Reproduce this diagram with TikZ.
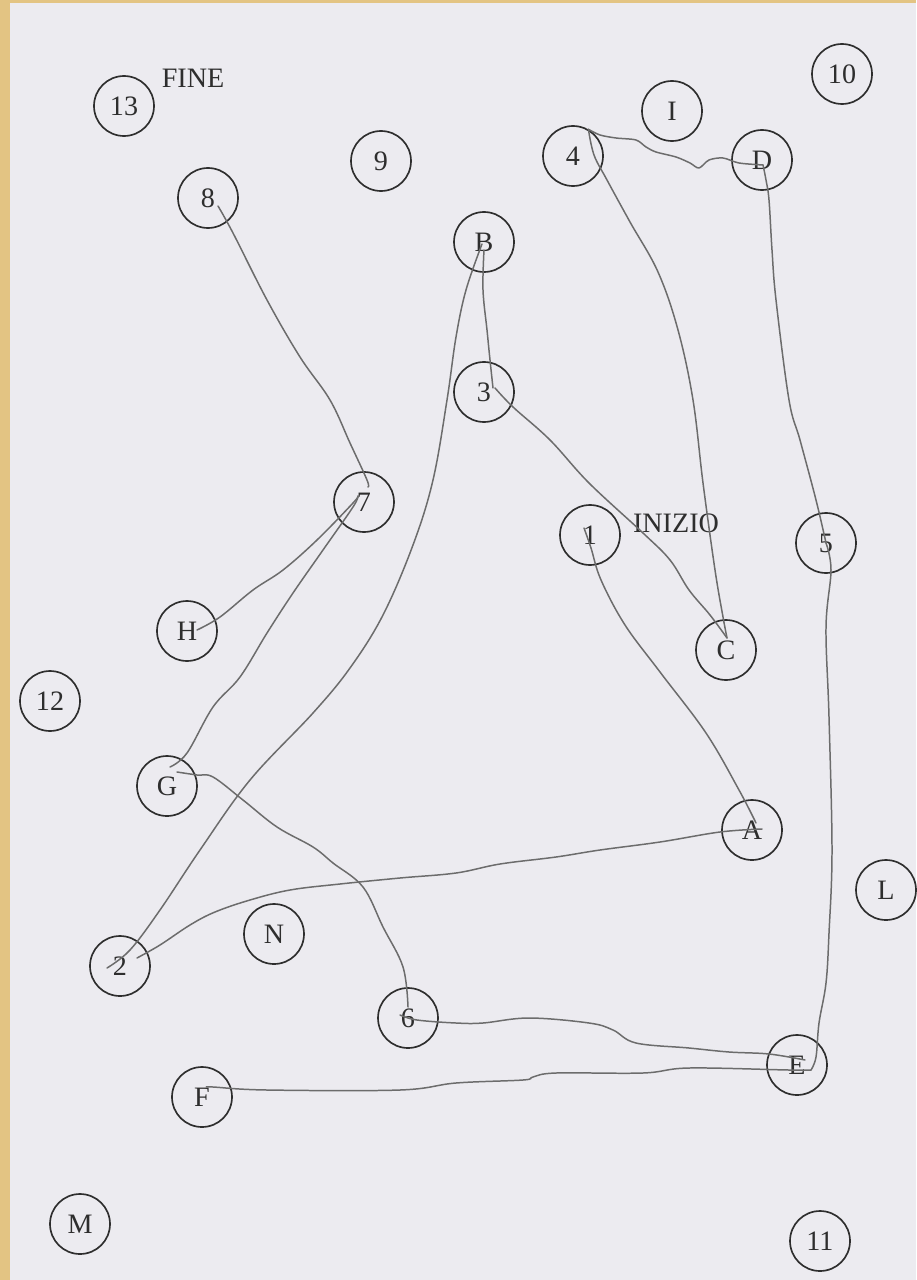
\documentclass[tikz,border=0pt]{standalone}
\usepackage{fontspec}
\setmainfont{Liberation Serif}
\usepackage{xcolor}

\definecolor{paper}{HTML}{ECEBF0}
\definecolor{tanedge}{HTML}{E3C483}
\definecolor{ink}{HTML}{2E2E2E}
\definecolor{pencil}{HTML}{6C6C6C}

\begin{document}
\begin{tikzpicture}[x=0.02cm, y=-0.02cm,
    spot/.style={circle, draw=ink, line width=0.95pt, minimum size=1.2cm, inner sep=0pt, font=\fontsize{16}{18}\selectfont, text=ink},
    lbl/.style={font=\fontsize{16}{18}\selectfont, text=ink, inner sep=0pt},
    trail/.style={draw=pencil, line width=0.85pt, line cap=round, line join=round}
]
\useasboundingbox (0,0) rectangle (916,1280);

% Sheet
\fill[tanedge] (0,0) rectangle (916,1280);
\fill[paper] (10,3) rectangle (916,1280);

% Numbers
\node[spot] (c1) at (590,535) {1};
\node[spot] (c2) at (120,966) {2};
\node[spot] (c3) at (484,392) {3};
\node[spot] (c4) at (573,156) {4};
\node[spot] (c5) at (826,543) {5};
\node[spot] (c6) at (408,1018) {6};
\node[spot] (c7) at (364,502) {7};
\node[spot] (c8) at (208,198) {8};
\node[spot] (c9) at (381,161) {9};
\node[spot] (c10) at (842,74) {10};
\node[spot] (c11) at (820,1241) {11};
\node[spot] (c12) at (50,701) {12};
\node[spot] (c13) at (124,106) {13};

% Letters
\node[spot] (cA) at (752,830) {A};
\node[spot] (cB) at (484,242) {B};
\node[spot] (cC) at (726,650) {C};
\node[spot] (cD) at (762,160) {D};
\node[spot] (cE) at (797,1065) {E};
\node[spot] (cF) at (202,1097) {F};
\node[spot] (cG) at (167,786) {G};
\node[spot] (cH) at (187,631) {H};
\node[spot] (cI) at (672,111) {I};
\node[spot] (cL) at (886,890) {L};
\node[spot] (cM) at (80,1224) {M};
\node[spot] (cN) at (274,934) {N};

% Start / end
\node[lbl] (fine) at (193,78) {FINE};
\node[lbl] (inizio) at (676,523) {INIZIO};

% Pen points inside the circles
\coordinate (p1) at ([shift={(-6,-7)}]c1.center);
\coordinate (pA) at ([shift={(4,-7)}]cA.center);
\coordinate (qA) at ([shift={(10,-1)}]cA.center);
\coordinate (p2) at ([shift={(17,-8)}]c2.center);
\coordinate (q2) at ([shift={(-13,2)}]c2.center);
\coordinate (pB) at ([shift={(-2,2)}]cB.center);
\coordinate (qB) at ([shift={(0,8)}]cB.center);
\coordinate (p3) at ([shift={(9,-4)}]c3.center);
\coordinate (q3) at ([shift={(11,-4)}]c3.center);
\coordinate (pC) at ([shift={(1,-12)}]cC.center);
\coordinate (p4) at (c4.60);
\coordinate (pD) at ([shift={(1,5)}]cD.center);
\coordinate (pE) at ([shift={(14,5)}]cE.center);
\coordinate (qE) at ([shift={(8,-5)}]cE.center);
\coordinate (p6) at ([shift={(-8,-3)}]c6.center);
\coordinate (q6) at ([shift={(0,-11)}]c6.center);
\coordinate (pF) at ([shift={(5,-10)}]cF.center);
\coordinate (pG) at ([shift={(10,-14)}]cG.center);
\coordinate (qG) at ([shift={(3,-19)}]cG.center);
\coordinate (pH) at ([shift={(10,-1)}]cH.center);
\coordinate (p7) at ([shift={(-6,-6)}]c7.center);
\coordinate (q7) at ([shift={(4,-15)}]c7.center);
\coordinate (p8) at ([shift={(10,8)}]c8.center);

% Trail
\draw[trail] plot[smooth, tension=0.6] coordinates {(p1) (591,548) (601,580) (625,625) (660,672) (706,733) (739,790) (pA)};
\draw[trail] plot[smooth, tension=0.6] coordinates {(qA) (720,832) (660,842) (600,850) (556,857) (500,864) (456,873) (400,878) (340,884) (290,890) (250,900) (215,912) (190,925) (160,945) (p2)};
\draw[trail] plot[smooth, tension=0.6] coordinates {(q2) (130,950) (160,910) (200,850) (250,780) (313,713) (350,668) (383,615) (413,545) (433,480) (447,400) (456,337) (466,290) (pB)};
\draw[trail] plot[smooth, tension=0.6] coordinates {(qB) (483,290) (487,330) (490,360) (p3)};
\draw[trail] plot[smooth, tension=0.6] coordinates {(q3) (513,407) (550,440) (589,483) (643,533) (670,560) (689,590) (710,615) (pC)};
\draw[trail] plot[smooth, tension=0.6] coordinates {(pC) (723,617) (715,570) (703,483) (693,400) (678,330) (658,272) (630,222) (607,180) (594,155) (p4)};
\draw[trail] plot[smooth, tension=0.5] coordinates {(p4) (600,135) (616,138) (636,140) (646,147) (656,152) (676,157) (690,163) (699,168) (709,160) (723,158) (739,163) (pD)};
\draw[trail] plot[smooth, tension=0.6] coordinates {(pD) (766,180) (769,200) (772,250) (776,300) (789,400) (800,440) (816,500) (c5.center)};
\draw[trail] plot[smooth, tension=0.6] coordinates {(c5.center) (831,570) (826,627) (829,717) (832,850) (829,933) (826,983) (819,1023) (816,1057) (pE)};
\draw[trail] plot[smooth, tension=0.6] coordinates {(qE) (769,1054) (729,1052) (689,1048) (636,1043) (613,1030) (589,1023) (529,1018) (483,1023) (456,1023) (417,1020) (p6)};
\draw[trail] plot[smooth, tension=0.6] coordinates {(pE) (789,1070) (689,1068) (643,1073) (556,1073) (533,1077) (523,1080) (456,1083) (400,1090) (267,1090) (213,1087) (pF)};
\draw[trail] plot[smooth, tension=0.6] coordinates {(q6) (403,967) (383,927) (363,887) (333,863) (313,847) (277,827) (243,800) (213,777) (197,775) (pG)};
\draw[trail] plot[smooth, tension=0.6] coordinates {(qG) (187,753) (213,707) (240,677) (267,633) (293,593) (323,550) (353,507) (p7)};
\draw[trail] plot[smooth, tension=0.6] coordinates {(pH) (220,617) (253,590) (283,570) (317,540) (353,503) (p7)};
\draw[trail] plot[smooth, tension=0.6] coordinates {(p8) (233,233) (267,300) (300,357) (330,400) (350,443) (367,480) (q7)};
\end{tikzpicture}
\end{document}
